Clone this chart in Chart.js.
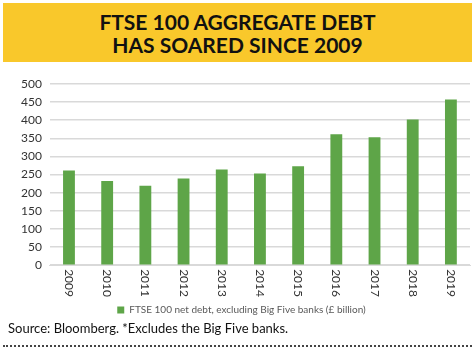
<!DOCTYPE html>
<html>
<head>
<meta charset="utf-8">
<script src="https://cdn.jsdelivr.net/npm/chart.js@4"></script>
<style>
  body { margin: 0; width: 475px; height: 351px; background: #fff; position: relative; overflow: hidden; font-family: Lato, "Open Sans", sans-serif; }
  #titulo { position: absolute; left: 3px; top: 3px; width: 469px; height: 59px; background: #F9C82B;
    color: #111; font-weight: bold; font-size: 21px; line-height: 23px; text-align: center;
    display: flex; flex-direction: column; justify-content: center; }
  #grafico { position: absolute; left: 0; top: 66px; width: 475px; height: 259px; }
  #fuente { position: absolute; left: 8px; top: 320px; font-size: 13px; color: #111; }
  #linea { position: absolute; left: 3px; right: 3px; top: 345px; border-top: 2px dotted #444; }
</style>
</head>
<body>
<div id="titulo"><div>FTSE 100 AGGREGATE DEBT</div><div>HAS SOARED SINCE 2009</div></div>
<div id="grafico"><canvas id="graficoDeuda"></canvas></div>
<div id="fuente">Source: Bloomberg. *Excludes the Big Five banks.</div>
<div id="linea"></div>
<script>
const anios = ['2009', '2010', '2011', '2012', '2013', '2014', '2015', '2016', '2017', '2018', '2019'];
const deuda = [261, 232, 219, 239, 264, 253, 273, 361, 353, 402, 457];
const ticksY = [0, 50, 100, 150, 200, 250, 300, 350, 400, 450, 500];

// etiquetas del eje x giradas en sentido horario
const etiquetasGiradas = {
  id: 'etiquetasGiradas',
  afterDraw(chart) {
    const ctx = chart.ctx;
    const x = chart.scales.x;
    ctx.save();
    ctx.font = '12px Lato, "Open Sans", sans-serif';
    ctx.fillStyle = '#333';
    ctx.textAlign = 'left';
    ctx.textBaseline = 'middle';
    anios.forEach((a, i) => {
      const px = x.getPixelForTick(i);
      ctx.save();
      ctx.translate(px, x.top + 4);
      ctx.rotate(Math.PI / 2);
      ctx.fillText(a, 0, 0);
      ctx.restore();
    });
    ctx.restore();
  }
};

const ctxDeuda = document.getElementById('graficoDeuda').getContext('2d');
new Chart(ctxDeuda, {
  type: 'bar',
  data: {
    labels: anios,
    datasets: [{
      label: 'FTSE 100 net debt, excluding Big Five banks (£ billion)',
      data: deuda,
      backgroundColor: '#5EA548',
      barPercentage: 0.62,
      categoryPercentage: 0.5
    }]
  },
  options: {
    responsive: true,
    maintainAspectRatio: false,
    animation: false,
    layout: { padding: { left: 13, right: 5, top: 18, bottom: 0 } },
    plugins: {
      tooltip: { enabled: false },
      legend: {
        position: 'bottom',
        labels: { boxWidth: 7, boxHeight: 7, color: '#595959', font: { size: 10, family: 'Lato' }, padding: 4 }
      }
    },
    scales: {
      x: {
        grid: { display: false },
        border: { color: '#d9d9d9' },
        ticks: { color: 'rgba(0,0,0,0)', minRotation: 90, maxRotation: 90, padding: 0, font: { size: 12, family: 'Lato' } }
      },
      y: {
        min: 0,
        max: 500,
        afterBuildTicks: (s) => { s.ticks = ticksY.map(v => ({ value: v })); },
        grid: { color: '#d9d9d9', lineWidth: 1.5, drawTicks: false },
        border: { display: false },
        ticks: { color: '#333', autoSkip: false, font: { size: 12, family: 'Lato' }, padding: 8 }
      }
    }
  },
  plugins: [etiquetasGiradas]
});
</script>
</body>
</html>
